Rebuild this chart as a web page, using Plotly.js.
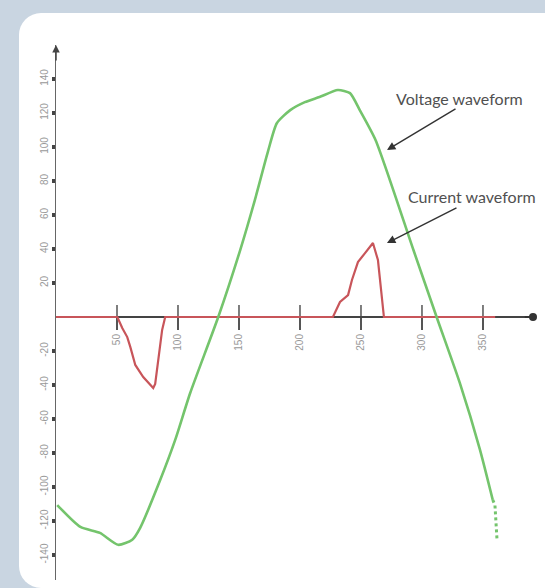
<!DOCTYPE html>
<html>
<head>
<meta charset="utf-8">
<script src="https://cdn.plot.ly/plotly-3.0.1.min.js"></script>
<style>
  html, body { margin:0; padding:0; width:545px; height:588px; overflow:hidden; background:#c9d5e1; }
  #card { position:absolute; left:19px; top:13px; width:526px; height:575px; background:#ffffff;
          border-top-left-radius:22px; border-bottom-left-radius:22px; }
  #chart { position:absolute; left:0; top:0; width:545px; height:588px; }
</style>
</head>
<body>
<div id="card"></div>
<div id="chart"></div>
<script>
// ---- data ----
const voltageX = [1, 20, 36, 51, 62.5, 69, 85.4, 97.7, 110, 133, 151, 163, 174, 181, 192, 204, 216, 231, 241, 249, 262, 293, 312, 331, 347.5, 358];
const voltageY = [-110.6, -123.5, -127, -134, -131, -124, -95.9, -72.3, -44.7, 0, 39.4, 68.8, 98, 114, 121.7, 126.4, 129.4, 133.5, 131.7, 121.7, 104, 39.4, 0, -38.8, -78, -107.6];
const voltageTailX = [358, 359.8, 361.5];
const voltageTailY = [-107.6, -110.6, -131];

const currentX = [0, 50.3, 54.3, 58.4, 60.9, 65, 71.5, 79.7, 81.3, 83.8, 87, 89.5, 227, 232.8, 239.4, 242.6, 247.5, 253.3, 259.8, 263.9, 267.2, 268.8, 360];
const currentY = [0, 0, -6.5, -11.8, -17.6, -28.2, -35.3, -41.8, -39.4, -25.3, -7.6, 0, 0, 8.8, 12.9, 21.8, 32.3, 37.6, 43.5, 33.5, 10, 0, 0];

const xTickVals = [50, 100, 150, 200, 250, 300, 350];
const xTickText = ['50', '100', '150', '200', '250', '300', '350'];
const yTickVals = [-140, -120, -100, -80, -60, -40, -20, 20, 40, 60, 80, 100, 120, 140];
const yTickText = ['-140', '-120', '-100', '-80', '-60', '-40', '-20', '20', '40', '60', '80', '100', '120', '140'];

const xRange = [0, 391];
const yRange = [-154.7, 160];

// ---- traces ----
const traces = [
  { x: currentX, y: currentY, type: 'scatter', mode: 'lines',
    line: { color: '#c8555a', width: 2.2 }, hoverinfo: 'skip', name: 'Current' },
  { x: voltageX, y: voltageY, type: 'scatter', mode: 'lines', line: { color: '#74c46c', width: 2.6, shape: 'spline', smoothing: 0.6 },
    hoverinfo: 'skip', name: 'Voltage' },
  { x: voltageTailX, y: voltageTailY, type: 'scatter', mode: 'lines', line: { color: '#74c46c', width: 3, dash: 'dot' },
    hoverinfo: 'skip', name: 'Voltage tail' }
];

const zeroPos = (0 - yRange[0]) / (yRange[1] - yRange[0]);

// upper halves of the crossing x ticks
const tickShapes = xTickVals.map(v => ({
  type: 'line', xref: 'x', yref: 'y', x0: v, x1: v, y0: 0, y1: 7,
  line: { color: '#555', width: 1.5 }, layer: 'below'
}));

const txtFont = { family: 'Lato, "Open Sans", sans-serif', size: 16, color: '#505050' };

const layout = {
  width: 545, height: 588,
  margin: { l: 56, r: 12, t: 45, b: 8, pad: 0 },
  paper_bgcolor: 'rgba(0,0,0,0)', plot_bgcolor: 'rgba(0,0,0,0)',
  showlegend: false,
  xaxis: {
    range: xRange, anchor: 'free', position: zeroPos,
    showline: true, linecolor: '#444', linewidth: 2,
    zeroline: false, showgrid: false,
    tickmode: 'array', tickvals: xTickVals, ticktext: xTickText,
    ticks: 'outside', ticklen: 12, tickwidth: 1.5, tickcolor: '#555',
    tickangle: -90, tickfont: { family: 'Liberation Sans', size: 10, color: '#999' },
    layer: 'below traces', fixedrange: true
  },
  yaxis: {
    range: yRange, showline: true, linecolor: '#666', linewidth: 1.5,
    zeroline: false, showgrid: false,
    tickmode: 'array', tickvals: yTickVals, ticktext: yTickText,
    ticks: 'outside', ticklen: 3, tickwidth: 4, tickcolor: '#444',
    tickangle: -90, tickfont: { family: 'Liberation Sans', size: 10, color: '#999' },
    layer: 'below traces', fixedrange: true
  },
  shapes: tickShapes,
  annotations: [
    { x: 331, y: 128.8, xref: 'x', yref: 'y', text: 'Voltage waveform', showarrow: false, font: txtFont },
    { x: 271.3, y: 98.2, xref: 'x', yref: 'y', ax: 328.7, ay: 123, axref: 'x', ayref: 'y',
      text: '', showarrow: true, arrowhead: 2, arrowsize: 1.2, arrowwidth: 1.4, arrowcolor: '#333' },
    { x: 341, y: 70.6, xref: 'x', yref: 'y', text: 'Current waveform', showarrow: false, font: txtFont },
    { x: 271.3, y: 43.5, xref: 'x', yref: 'y', ax: 329.5, ay: 64.7, axref: 'x', ayref: 'y',
      text: '', showarrow: true, arrowhead: 2, arrowsize: 1.2, arrowwidth: 1.4, arrowcolor: '#333' },
    { x: 0, y: 160, xref: 'x', yref: 'y', ax: 0, ay: 150, axref: 'x', ayref: 'y',
      text: '', showarrow: true, arrowhead: 2, arrowsize: 1, arrowwidth: 1.5, arrowcolor: '#444' },
    { x: 391, y: 0, xref: 'x', yref: 'y', ax: 383, ay: 0, axref: 'x', ayref: 'y',
      text: '', showarrow: true, arrowhead: 6, arrowsize: 1, arrowwidth: 2, arrowcolor: '#333' }
  ]
};

Plotly.newPlot('chart', traces, layout, { displayModeBar: false, staticPlot: true });
</script>
</body>
</html>
